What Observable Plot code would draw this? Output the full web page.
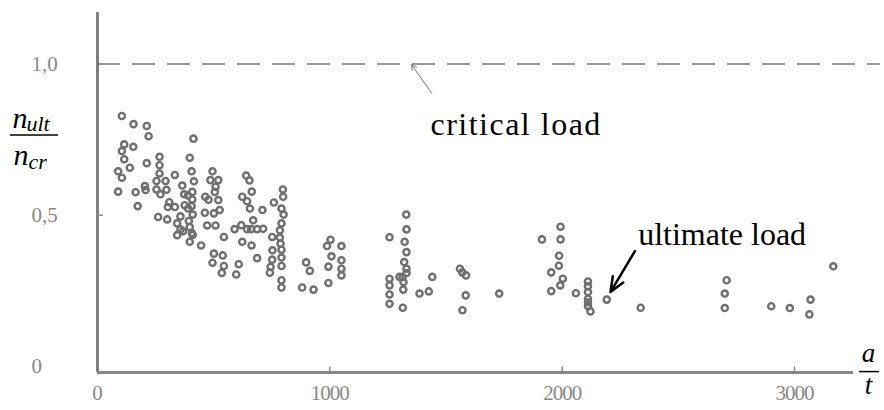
<!DOCTYPE html>
<html><head><meta charset="utf-8">
<script src="https://cdn.jsdelivr.net/npm/d3@7"></script>
<script src="https://cdn.jsdelivr.net/npm/@observablehq/plot@0.6"></script>
<style>
html,body{margin:0;padding:0;background:#fff;}
#chart svg text{font-family:"Liberation Serif","Times New Roman",serif;}
</style></head><body><div id="chart"></div>
<script>
// slenderness a/t of the tested panels
const aOverT = [
105,155,212,220,413,115,154,105,115,267,397,212,139,267,89,105,267,333,405,495,
640,654,254,293,415,486,520,365,89,164,207,204,254,271,297,373,408,508,505,664,
798,799,623,644,464,478,520,408,389,173,309,303,333,375,405,390,462,501,526,656,
710,759,792,801,261,300,357,410,343,393,472,508,590,619,644,670,687,713,792,785,
357,397,406,343,410,544,752,785,397,446,623,663,788,753,792,501,539,687,792,752,
495,544,608,745,792,535,597,742,792,792,881,930,898,914,1003,988,994,994,1007,1050,
1050,1050,1050,661,368,
1257,1329,1330,1322,1330,1320,1330,1330,1300,1313,1317,1257,1257,1257,1257,1316,1314,
1386,1426,1441,1560,1570,1586,1585,1571,1729,
1913,1993,1993,1987,1986,1953,2003,1992,1953,2059,2111,2111,2111,2111,2111,2111,2122,
2192,2338,2708,2700,2700,2900,2980,3069,3064,3167
];
// ratio n_ult / n_cr
const nRatio = [
.828,.801,.795,.761,.753,.734,.726,.712,.685,.693,.690,.672,.657,.665,.645,.624,.638,.633,.645,.645,
.631,.615,.613,.613,.612,.616,.616,.598,.578,.576,.583,.596,.585,.569,.584,.569,.577,.594,.577,.578,
.585,.561,.561,.546,.561,.551,.550,.552,.565,.530,.543,.527,.527,.533,.530,.522,.508,.506,.517,.522,
.517,.542,.522,.502,.494,.486,.496,.502,.473,.481,.466,.466,.454,.467,.454,.483,.454,.455,.473,.450,
.453,.461,.441,.434,.435,.428,.428,.426,.412,.400,.412,.400,.406,.384,.386,.373,.367,.358,.360,.353,
.343,.332,.338,.329,.332,.309,.304,.310,.285,.261,.261,.254,.344,.316,.419,.398,.330,.276,.364,.398,
.351,.323,.301,.454,.447,
.427,.502,.453,.412,.378,.345,.323,.309,.296,.295,.279,.290,.268,.238,.207,.254,.194,
.241,.248,.296,.323,.311,.301,.235,.186,.241,
.420,.462,.420,.366,.333,.311,.290,.268,.249,.242,.281,.265,.246,.224,.212,.200,.182,
.221,.194,.285,.241,.193,.199,.193,.221,.172,.331
];
const xTicks = [0, 1000, 2000, 3000];
const xTickLabels = ["0", "1000", "2000", "3000"];
const yTicks = [0, 0.5, 1];
const yTickLabels = ["0", "0,5", "1,0"];
const yMinorTicks = [0.5];
const criticalLoad = [1.0];
const xDomain = [0, 3254];
const yDomain = [-0.02, 1.17];

const notes = [
  {text: "critical load", x: 1433, y: 0.800, spacing: 1.5},
  {text: "ultimate load", x: 2327, y: 0.436, spacing: 0}
];
const criticalArrow = [{x1: 1438, y1: 0.904, x2: 1352, y2: 0.997}];
const ultimateArrow = [{x1: 2313, y1: 0.381, x2: 2208, y2: 0.246}];
const yLabelMain = [{text: "n", x: -366, y: 0.820}, {text: "n", x: -362, y: 0.697}];
const yLabelSub = [{text: "ult", x: -306, y: 0.801}, {text: "cr", x: -297, y: 0.675}];
const yLabelBar = [{x1: -375, x2: -168, y: 0.765}];
const xLabel = [{text: "a", x: 3319, y: 0.043}, {text: "t", x: 3319, y: -0.062}];
const xLabelBar = [{x1: 3280, x2: 3366, y: -0.017}];

const points = aOverT.map((a, i) => ({a, n: nRatio[i]}));
const serif = "Liberation Serif";

const chart = Plot.plot({
  width: 884, height: 410,
  marginLeft: 97, marginRight: 31, marginTop: 12, marginBottom: 38,
  x: {domain: xDomain, axis: null},
  y: {domain: yDomain, axis: null},
  style: {fontFamily: serif, background: "white", overflow: "visible"},
  marks: [
    Plot.ruleY(criticalLoad, {x1: 0, x2: 3370, stroke: "#777", strokeWidth: 1.6, strokeDasharray: "23,12"}),
    Plot.ruleX([xDomain[0]], {stroke: "#777", strokeWidth: 2.8}),
    Plot.ruleY([yDomain[0]], {stroke: "#888", strokeWidth: 3}),
    Plot.ruleX(xTicks.slice(1), {y1: yDomain[0], y2: -0.002, stroke: "#888", strokeWidth: 1.5}),
    Plot.ruleY(yMinorTicks, {x1: 0, x2: 25, stroke: "#888", strokeWidth: 1.5}),
    Plot.dot(points, {x: "a", y: "n", r: 3.1, stroke: "#6f6f6f", strokeWidth: 2.4, fill: "none"}),
    Plot.text(xTicks, {x: d => d, text: (d, i) => xTickLabels[i], frameAnchor: "bottom", lineAnchor: "middle", dy: 21, fontSize: 21, fontFamily: serif, fill: "#888"}),
    Plot.text(yTicks, {y: d => d, text: (d, i) => yTickLabels[i], frameAnchor: "left", lineAnchor: "middle", textAnchor: "start", dx: -66, fontSize: 21, fontFamily: serif, fill: "#888"}),
    Plot.text(notes, {x: "x", y: "y", text: "text", textAnchor: "start", fontSize: 32, fontFamily: serif, fill: "black"}),
    Plot.arrow(criticalArrow, {x1: "x1", y1: "y1", x2: "x2", y2: "y2", stroke: "#777", strokeWidth: 1, headLength: 8}),
    Plot.arrow(ultimateArrow, {x1: "x1", y1: "y1", x2: "x2", y2: "y2", stroke: "black", strokeWidth: 2.5, headLength: 13, headAngle: 45}),
    Plot.text(yLabelMain, {x: "x", y: "y", text: "text", textAnchor: "start", fontSize: 30, fontStyle: "italic", fontFamily: serif, fill: "black"}),
    Plot.text(yLabelSub, {x: "x", y: "y", text: "text", textAnchor: "start", fontSize: 22, fontStyle: "italic", fontFamily: serif, fill: "black"}),
    Plot.ruleY(yLabelBar, {x1: "x1", x2: "x2", y: "y", stroke: "black", strokeWidth: 1.5}),
    Plot.text(xLabel, {x: "x", y: "y", text: "text", fontSize: 27, fontStyle: "italic", fontFamily: serif, fill: "black"}),
    Plot.ruleY(xLabelBar, {x1: "x1", x2: "x2", y: "y", stroke: "black", strokeWidth: 1.5})
  ]
});
// typographic spacing to match the scanned lettering
d3.select(chart).selectAll("text").each(function () {
  const t = this.textContent;
  const note = notes.find(n => n.text === t);
  if (note && note.spacing) d3.select(this).attr("letter-spacing", note.spacing);
  if (xTickLabels.includes(t) && t.length > 1) d3.select(this).attr("letter-spacing", -1);
});
document.getElementById("chart").appendChild(chart);
</script>
</body></html>
